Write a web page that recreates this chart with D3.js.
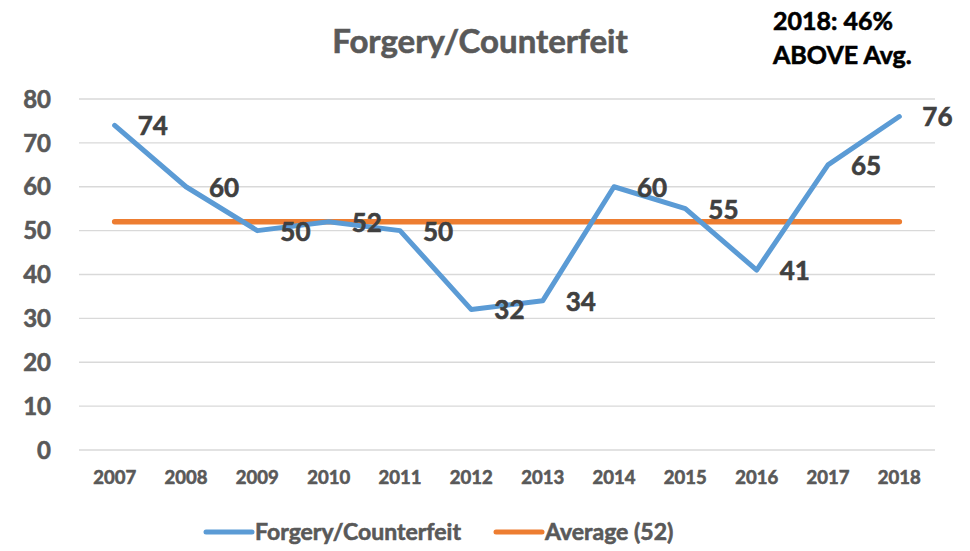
<!DOCTYPE html>
<html>
<head>
<meta charset="utf-8">
<script src="https://d3js.org/d3.v7.min.js"></script>
<style>
  body { margin: 0; background: #fff; }
  text { font-family: Lato, "Open Sans", sans-serif; font-weight: bold; stroke-width: 0.6px; }
</style>
</head>
<body>
<svg width="970" height="551"></svg>
<script>
// data
var years = ["2007","2008","2009","2010","2011","2012","2013","2014","2015","2016","2017","2018"];
var counts = [74, 60, 50, 52, 50, 32, 34, 60, 55, 41, 65, 76];
var average = 52;
var yTicks = [0, 10, 20, 30, 40, 50, 60, 70, 80];

var svg = d3.select("svg");
var grey = "#595959";
var blue = "#5B9BD5", orange = "#ED7D31";

var x = d3.scaleBand().domain(years).range([79, 935]);
var y = d3.scaleLinear().domain([0, 80]).range([450, 99]);
var cx = function(d) { return x(d) + x.bandwidth() / 2; };

// gridlines
svg.append("g").selectAll("line")
  .data(yTicks)
  .enter().append("line")
    .attr("x1", 79).attr("x2", 935)
    .attr("y1", function(d) { return y(d); })
    .attr("y2", function(d) { return y(d); })
    .attr("stroke", "#d9d9d9").attr("stroke-width", 1.3);

// y labels
svg.append("g").selectAll("text")
  .data(yTicks)
  .enter().append("text")
    .attr("x", 51)
    .attr("y", function(d) { return y(d); })
    .attr("dy", "0.36em")
    .attr("text-anchor", "end")
    .attr("fill", grey).attr("stroke", grey)
    .style("font-size", "24px")
    .text(function(d) { return d; });

// x labels
svg.append("g").selectAll("text")
  .data(years)
  .enter().append("text")
    .attr("x", cx)
    .attr("y", 484)
    .attr("text-anchor", "middle")
    .attr("fill", grey).attr("stroke", grey)
    .style("font-size", "18.5px")
    .text(function(d) { return d; });

// average line
svg.append("line")
  .attr("x1", cx(years[0])).attr("x2", cx(years[years.length - 1]))
  .attr("y1", y(average)).attr("y2", y(average))
  .attr("stroke", orange).attr("stroke-width", 5.5).attr("stroke-linecap", "round");

// main series
var line = d3.line()
  .x(function(d, i) { return cx(years[i]); })
  .y(function(d) { return y(d); });

svg.append("path")
  .datum(counts)
  .attr("d", line)
  .attr("fill", "none")
  .attr("stroke", blue).attr("stroke-width", 5)
  .attr("stroke-linecap", "round").attr("stroke-linejoin", "round");

// data labels (right of point)
svg.append("g").selectAll("text")
  .data(counts)
  .enter().append("text")
    .attr("x", function(d, i) { return cx(years[i]) + 23; })
    .attr("y", function(d) { return y(d); })
    .attr("dy", "0.38em")
    .attr("fill", "#404040").attr("stroke", "#404040")
    .style("font-size", "26px")
    .text(function(d) { return d; });

// title
svg.append("text")
  .attr("x", 480).attr("y", 53)
  .attr("text-anchor", "middle")
  .attr("fill", grey).attr("stroke", grey)
  .style("font-size", "33px")
  .text("Forgery/Counterfeit");

// annotation
svg.append("text").attr("x", 773).attr("y", 30)
  .attr("fill", "#000").attr("stroke", "#000").style("font-size", "25px").text("2018: 46%");
svg.append("text").attr("x", 773).attr("y", 64)
  .attr("fill", "#000").attr("stroke", "#000").style("font-size", "25px").text("ABOVE Avg.");

// legend
var legend = [
  { name: "Forgery/Counterfeit", color: blue, x: 206 },
  { name: "Average (52)", color: orange, x: 496 }
];
var lg = svg.append("g").selectAll("g")
  .data(legend)
  .enter().append("g");
lg.append("line")
  .attr("x1", function(d) { return d.x; })
  .attr("x2", function(d) { return d.x + 46; })
  .attr("y1", 532).attr("y2", 532)
  .attr("stroke", function(d) { return d.color; })
  .attr("stroke-width", 5).attr("stroke-linecap", "round");
lg.append("text")
  .attr("x", function(d) { return d.x + 49; })
  .attr("y", 532).attr("dy", "0.36em")
  .attr("fill", grey).attr("stroke", grey)
  .style("font-size", "23px")
  .text(function(d) { return d.name; });
</script>
</body>
</html>
